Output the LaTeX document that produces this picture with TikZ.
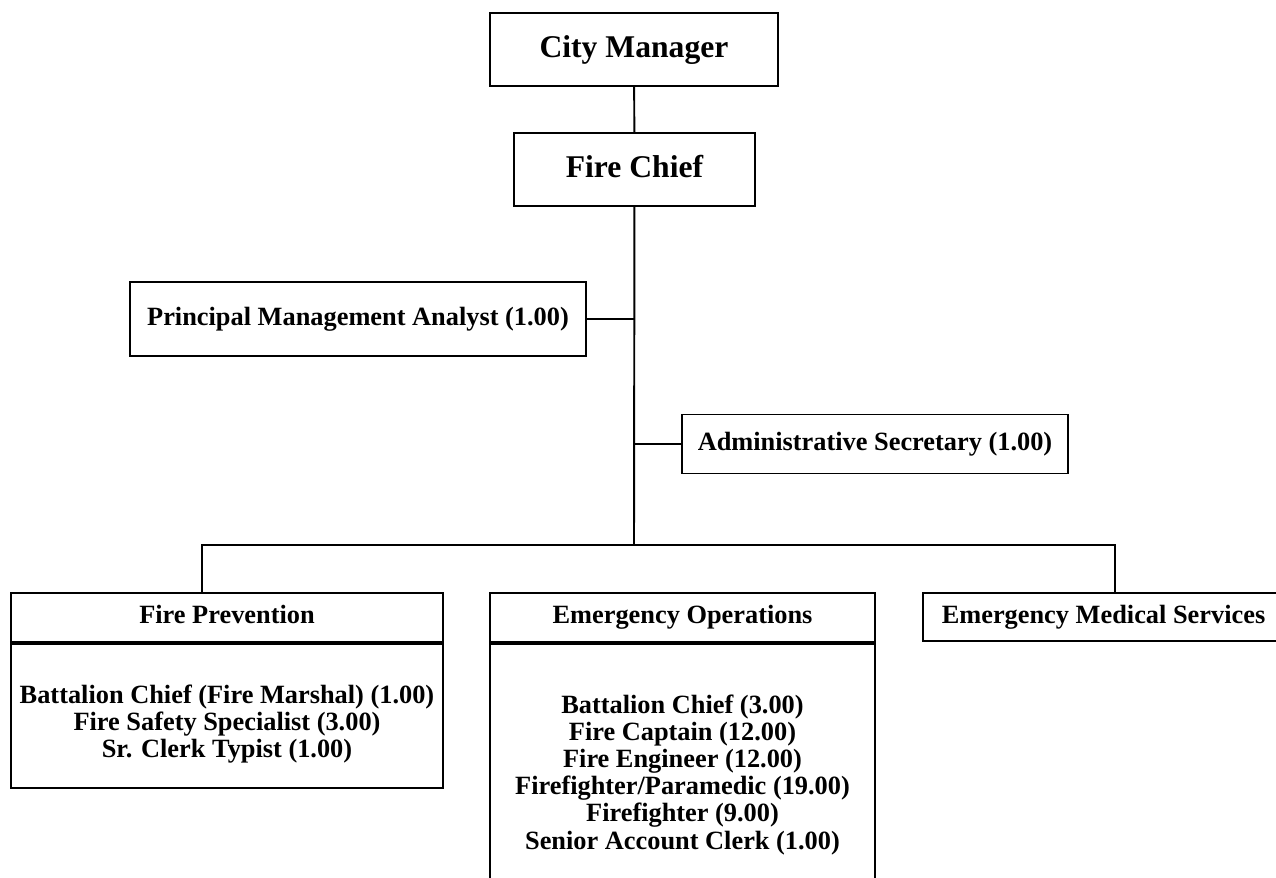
\documentclass[tikz,border=0pt]{standalone}
\usepackage{fontspec}
\setmainfont{Liberation Serif}
\usepackage{tikz}
\usetikzlibrary{positioning}
\tikzset{box/.style={draw=black,line width=1.1pt,inner sep=0pt,align=center,font=\fontsize{15}{15.4}\selectfont\bfseries},head/.style={box,text height=10.5pt,text depth=3.2pt},big/.style={box,text height=12.5pt,text depth=3.8pt,font=\fontsize{18}{20}\selectfont\bfseries},conn/.style={line width=1.1pt}}

\begin{document}
\begin{tikzpicture}[x=0.02cm,y=-0.02cm]
\useasboundingbox (0,0) rectangle (1276,878);
\node[big,minimum width=5.76cm,minimum height=1.46cm] (manager) at (634,49.5) {City Manager};
\node[big,minimum width=4.82cm,minimum height=1.46cm] (chief) at (634.5,169.5) {Fire Chief};
\node[head,minimum width=9.12cm,minimum height=1.48cm] (analyst) at (358,319) {Principal Management Analyst (1.00)};
\node[head,minimum width=7.72cm,minimum height=1.18cm] (secretary) at (875,444) {Administrative Secretary (1.00)};
\node[head,minimum width=8.64cm,minimum height=0.98cm] (prevhead) at (227,617.5) {Fire Prevention};
\node[box,minimum width=8.64cm,minimum height=2.88cm,anchor=north] (prevstaff) at (prevhead.south) {\rule{0pt}{19.5pt}Battalion Chief (Fire Marshal) (1.00)\\Fire Safety Specialist (3.00)\\Sr. Clerk Typist (1.00)};
\node[head,minimum width=7.7cm,minimum height=0.98cm] (opshead) at (682.5,617.5) {Emergency Operations};
\node[box,minimum width=7.7cm,minimum height=5.24cm,anchor=north] (opsstaff) at (opshead.south) {Battalion Chief (3.00)\\Fire Captain (12.00)\\Fire Engineer (12.00)\\Firefighter/Paramedic (19.00)\\Firefighter (9.00)\\Senior Account Clerk (1.00)};
\node[head,minimum width=7.22cm,minimum height=0.96cm] (ems) at (1103.5,617) {Emergency Medical Services};
\coordinate (hub) at (634,545);
\coordinate (barleft) at (202,545);
\coordinate (barright) at (1115,545);
\draw[conn] (manager) -- (chief);
\draw[conn] (chief) -- (hub);
\draw[conn] (analyst) -- (analyst -| hub);
\draw[conn] (secretary) -- (secretary -| hub);
\draw[conn] (barleft |- prevhead.north) -- (barleft) -- (barright) -- (barright |- ems.north);
\end{tikzpicture}
\end{document}
